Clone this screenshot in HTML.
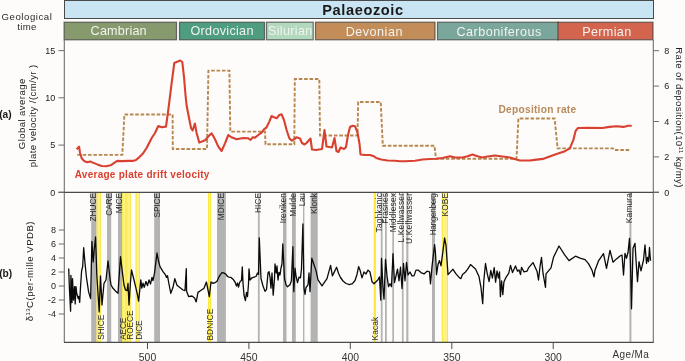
<!DOCTYPE html>
<html><head><meta charset="utf-8"><style>
html,body{margin:0;padding:0;background:#fdfcfb;}
svg{display:block;will-change:transform;}
text{font-family:"Liberation Sans",sans-serif;}
</style></head><body>
<svg width="685" height="361" viewBox="0 0 685 361">
<rect x="0" y="0" width="685" height="361" fill="#fdfcfb"/>
<rect x="64.5" y="0.5" width="589" height="18" fill="#c9e5f4" stroke="#4a4a4a" stroke-width="1"/>
<text x="363" y="14.6" font-family="Liberation Sans" font-weight="bold" font-size="14.6" fill="#1a1a1a" text-anchor="middle" letter-spacing="0.6">Palaeozoic</text>
<rect x="64.1" y="22.2" width="112.4" height="17.6" fill="#879a6d" stroke="#404040" stroke-opacity="0.75" stroke-width="1.2"/>
<text x="118.7" y="34.9" font-family="Liberation Sans" font-size="12.6" fill="#f2f3ee" text-anchor="middle" letter-spacing="0.2">Cambrian</text>
<rect x="179.5" y="22.2" width="85" height="17.6" fill="#4e9d80" stroke="#404040" stroke-opacity="0.75" stroke-width="1.2"/>
<text x="222.1" y="35.2" font-family="Liberation Sans" font-size="12.6" fill="#f2f3ee" text-anchor="middle" letter-spacing="0.3">Ordovician</text>
<rect x="266.5" y="22.2" width="46.69999999999999" height="17.6" fill="#b2d9bd" stroke="#404040" stroke-opacity="0.75" stroke-width="1.2"/>
<text x="290.3" y="34.6" font-family="Liberation Sans" font-size="12.6" fill="#f2f3ee" text-anchor="middle" letter-spacing="0.35">Silurian</text>
<rect x="315.5" y="22.2" width="119.5" height="17.6" fill="#c38d5a" stroke="#404040" stroke-opacity="0.75" stroke-width="1.2"/>
<text x="374.3" y="35.5" font-family="Liberation Sans" font-size="12.6" fill="#f2f3ee" text-anchor="middle" letter-spacing="0.5">Devonian</text>
<rect x="437.5" y="22.2" width="121" height="17.6" fill="#7aa69c" stroke="#404040" stroke-opacity="0.75" stroke-width="1.2"/>
<text x="499.1" y="35.6" font-family="Liberation Sans" font-size="12.6" fill="#f2f3ee" text-anchor="middle" letter-spacing="0.47">Carboniferous</text>
<rect x="558.0" y="22.2" width="95.0" height="17.6" fill="#d3654e" stroke="#404040" stroke-opacity="0.75" stroke-width="1.2"/>
<text x="606.9" y="35.6" font-family="Liberation Sans" font-size="12.6" fill="#f2f3ee" text-anchor="middle" letter-spacing="0.35">Permian</text>
<text x="27" y="19.6" font-family="Liberation Sans" font-size="9.6" fill="#2a2a2a" text-anchor="middle" letter-spacing="0.55">Geological</text>
<text x="27" y="29.9" font-family="Liberation Sans" font-size="9.6" fill="#2a2a2a" text-anchor="middle" letter-spacing="0.35">time</text>
<rect x="91.2" y="192.5" width="5.5" height="149.5" fill="#b3b3b3"/>
<rect x="96.7" y="192.5" width="4.1" height="149.5" fill="#fdf28a"/>
<rect x="97.2" y="192.5" width="3.1" height="149.5" fill="none" stroke="#fbe83a" stroke-width="1"/>
<rect x="107" y="192.5" width="4.2" height="149.5" fill="#b3b3b3"/>
<rect x="118" y="192.5" width="4.2" height="149.5" fill="#b3b3b3"/>
<rect x="122.2" y="192.5" width="4.2" height="149.5" fill="#fdf28a"/>
<rect x="122.7" y="192.5" width="3.2" height="149.5" fill="none" stroke="#fbe83a" stroke-width="1"/>
<rect x="126.4" y="192.5" width="4.4" height="149.5" fill="#fdf28a"/>
<rect x="126.9" y="192.5" width="3.4" height="149.5" fill="none" stroke="#fbe83a" stroke-width="1"/>
<rect x="135.6" y="192.5" width="4.4" height="149.5" fill="#fdf28a"/>
<rect x="136.1" y="192.5" width="3.4" height="149.5" fill="none" stroke="#fbe83a" stroke-width="1"/>
<rect x="154.2" y="192.5" width="5.8" height="149.5" fill="#b3b3b3"/>
<rect x="208.1" y="192.5" width="3.0" height="149.5" fill="#fdf28a"/>
<rect x="208.6" y="192.5" width="2.0" height="149.5" fill="none" stroke="#fbe83a" stroke-width="1"/>
<rect x="217" y="192.5" width="8.9" height="149.5" fill="#b3b3b3"/>
<rect x="257.9" y="192.5" width="1.8" height="149.5" fill="#b3b3b3"/>
<rect x="283" y="192.5" width="3.5" height="149.5" fill="#b3b3b3"/>
<rect x="292" y="192.5" width="3.8" height="149.5" fill="#b3b3b3"/>
<rect x="303" y="192.5" width="1.4" height="149.5" fill="#b3b3b3"/>
<rect x="310.6" y="192.5" width="7.1" height="149.5" fill="#b3b3b3"/>
<rect x="373.8" y="192.5" width="2.0" height="149.5" fill="#fdf28a"/>
<rect x="374.3" y="192.5" width="1.0" height="149.5" fill="none" stroke="#fbe83a" stroke-width="1"/>
<rect x="380.8" y="192.5" width="1.8" height="149.5" fill="#b3b3b3"/>
<rect x="385" y="192.5" width="1.8" height="149.5" fill="#b3b3b3"/>
<rect x="392.3" y="192.5" width="1.7" height="149.5" fill="#b3b3b3"/>
<rect x="401.9" y="192.5" width="1.7" height="149.5" fill="#b3b3b3"/>
<rect x="406.3" y="192.5" width="2.1" height="149.5" fill="#b3b3b3"/>
<rect x="432" y="192.5" width="3.0" height="149.5" fill="#b3b3b3"/>
<rect x="441.8" y="192.5" width="6.2" height="149.5" fill="#fdf28a"/>
<rect x="442.3" y="192.5" width="5.2" height="149.5" fill="none" stroke="#fbe83a" stroke-width="1"/>
<rect x="629.4" y="192.5" width="2.0" height="149.5" fill="#b3b3b3"/>
<line x1="64.3" y1="40" x2="64.3" y2="342.3" stroke="#6e6e6e" stroke-width="1.1"/>
<line x1="653.3" y1="40" x2="653.3" y2="342.3" stroke="#6e6e6e" stroke-width="1.1"/>
<line x1="58.5" y1="192.3" x2="659" y2="192.3" stroke="#4a4a4a" stroke-width="1.2"/>
<line x1="64" y1="342.3" x2="653.8" y2="342.3" stroke="#4a4a4a" stroke-width="1.2"/>
<line x1="58.5" y1="192.3" x2="64.3" y2="192.3" stroke="#6e6e6e" stroke-width="1"/>
<text x="55.2" y="195.5" font-family="Liberation Sans" font-size="9" fill="#222" text-anchor="end">0</text>
<line x1="58.5" y1="145.1" x2="64.3" y2="145.1" stroke="#6e6e6e" stroke-width="1"/>
<text x="55.2" y="148.2" font-family="Liberation Sans" font-size="9" fill="#222" text-anchor="end">5</text>
<line x1="58.5" y1="97.8" x2="64.3" y2="97.8" stroke="#6e6e6e" stroke-width="1"/>
<text x="55.2" y="101.0" font-family="Liberation Sans" font-size="9" fill="#222" text-anchor="end">10</text>
<line x1="58.5" y1="50.6" x2="64.3" y2="50.6" stroke="#6e6e6e" stroke-width="1"/>
<text x="55.2" y="53.8" font-family="Liberation Sans" font-size="9" fill="#222" text-anchor="end">15</text>
<line x1="653.3" y1="192.3" x2="659" y2="192.3" stroke="#6e6e6e" stroke-width="1"/>
<text x="664.3" y="195.5" font-family="Liberation Sans" font-size="9" fill="#222">0</text>
<line x1="653.3" y1="156.9" x2="659" y2="156.9" stroke="#6e6e6e" stroke-width="1"/>
<text x="664.3" y="160.1" font-family="Liberation Sans" font-size="9" fill="#222">2</text>
<line x1="653.3" y1="121.5" x2="659" y2="121.5" stroke="#6e6e6e" stroke-width="1"/>
<text x="664.3" y="124.7" font-family="Liberation Sans" font-size="9" fill="#222">4</text>
<line x1="653.3" y1="86.1" x2="659" y2="86.1" stroke="#6e6e6e" stroke-width="1"/>
<text x="664.3" y="89.3" font-family="Liberation Sans" font-size="9" fill="#222">6</text>
<line x1="653.3" y1="50.7" x2="659" y2="50.7" stroke="#6e6e6e" stroke-width="1"/>
<text x="664.3" y="53.9" font-family="Liberation Sans" font-size="9" fill="#222">8</text>
<line x1="58.8" y1="230.0" x2="64.3" y2="230.0" stroke="#6e6e6e" stroke-width="1"/>
<text x="56" y="233.2" font-family="Liberation Sans" font-size="9" fill="#222" text-anchor="end">8</text>
<line x1="58.8" y1="244.0" x2="64.3" y2="244.0" stroke="#6e6e6e" stroke-width="1"/>
<text x="56" y="247.2" font-family="Liberation Sans" font-size="9" fill="#222" text-anchor="end">6</text>
<line x1="58.8" y1="258.0" x2="64.3" y2="258.0" stroke="#6e6e6e" stroke-width="1"/>
<text x="56" y="261.2" font-family="Liberation Sans" font-size="9" fill="#222" text-anchor="end">4</text>
<line x1="58.8" y1="272.0" x2="64.3" y2="272.0" stroke="#6e6e6e" stroke-width="1"/>
<text x="56" y="275.2" font-family="Liberation Sans" font-size="9" fill="#222" text-anchor="end">2</text>
<line x1="58.8" y1="286.0" x2="64.3" y2="286.0" stroke="#6e6e6e" stroke-width="1"/>
<text x="56" y="289.2" font-family="Liberation Sans" font-size="9" fill="#222" text-anchor="end">0</text>
<line x1="58.8" y1="300.0" x2="64.3" y2="300.0" stroke="#6e6e6e" stroke-width="1"/>
<text x="56" y="303.2" font-family="Liberation Sans" font-size="9" fill="#222" text-anchor="end">-2</text>
<line x1="58.8" y1="314.0" x2="64.3" y2="314.0" stroke="#6e6e6e" stroke-width="1"/>
<text x="56" y="317.2" font-family="Liberation Sans" font-size="9" fill="#222" text-anchor="end">-4</text>
<line x1="147.5" y1="342.3" x2="147.5" y2="349" stroke="#4a4a4a" stroke-width="1"/>
<text x="147.5" y="361" font-family="Liberation Sans" font-size="10.4" fill="#333" text-anchor="middle">500</text>
<line x1="248.9" y1="342.3" x2="248.9" y2="349" stroke="#4a4a4a" stroke-width="1"/>
<text x="248.9" y="361" font-family="Liberation Sans" font-size="10.4" fill="#333" text-anchor="middle">450</text>
<line x1="350.3" y1="342.3" x2="350.3" y2="349" stroke="#4a4a4a" stroke-width="1"/>
<text x="350.3" y="361" font-family="Liberation Sans" font-size="10.4" fill="#333" text-anchor="middle">400</text>
<line x1="451.8" y1="342.3" x2="451.8" y2="349" stroke="#4a4a4a" stroke-width="1"/>
<text x="451.8" y="361" font-family="Liberation Sans" font-size="10.4" fill="#333" text-anchor="middle">350</text>
<line x1="553.2" y1="342.3" x2="553.2" y2="349" stroke="#4a4a4a" stroke-width="1"/>
<text x="553.2" y="361" font-family="Liberation Sans" font-size="10.4" fill="#333" text-anchor="middle">300</text>
<text x="630.9" y="358.3" font-family="Liberation Sans" font-size="10" fill="#333" text-anchor="middle" letter-spacing="0.4">Age/Ma</text>
<text transform="translate(25.2,114) rotate(-90)" font-family="Liberation Sans" font-size="9.6" fill="#222" text-anchor="middle" textLength="70.5" lengthAdjust="spacing">Global average</text>
<text transform="translate(36.2,116) rotate(-90)" font-family="Liberation Sans" font-size="9.6" fill="#222" text-anchor="middle" textLength="102.5" lengthAdjust="spacing">plate velocity /(cm/yr )</text>
<text x="-0.8" y="117.6" font-family="Liberation Sans" font-weight="bold" font-size="10.2" fill="#1a1a1a">(a)</text>
<text x="-0.8" y="277.3" font-family="Liberation Sans" font-weight="bold" font-size="10.2" fill="#1a1a1a">(b)</text>
<text transform="translate(33.0,271.2) rotate(-90)" font-family="Liberation Sans" font-size="9.6" fill="#222" text-anchor="middle" letter-spacing="0.47">δ<tspan font-size="6" dy="-3.5">13</tspan><tspan dy="3.5">C(per-mille VPDB)</tspan></text>
<text transform="translate(675.8,117.5) rotate(90)" font-family="Liberation Sans" font-size="9.6" fill="#222" text-anchor="middle" letter-spacing="0.39">Rate of deposition(10<tspan font-size="6" dy="-3.5">11</tspan><tspan dy="3.5"> kg/my)</tspan></text>
<text transform="translate(96.0,193.0) rotate(-90)" font-family="Liberation Sans" font-size="8.4" fill="#2a2a2a" text-anchor="end" textLength="28.5" lengthAdjust="spacing">ZHUCE</text>
<text transform="translate(111.7,193.0) rotate(-90)" font-family="Liberation Sans" font-size="8.4" fill="#2a2a2a" text-anchor="end" textLength="22.7" lengthAdjust="spacing">CARE</text>
<text transform="translate(122.2,193.0) rotate(-90)" font-family="Liberation Sans" font-size="8.4" fill="#2a2a2a" text-anchor="end" textLength="20.3" lengthAdjust="spacing">MICE</text>
<text transform="translate(159.6,193.0) rotate(-90)" font-family="Liberation Sans" font-size="8.4" fill="#2a2a2a" text-anchor="end" textLength="24.4" lengthAdjust="spacing">SPICE</text>
<text transform="translate(224.4,193.0) rotate(-90)" font-family="Liberation Sans" font-size="8.4" fill="#2a2a2a" text-anchor="end" textLength="27.3" lengthAdjust="spacing">MDICE</text>
<text transform="translate(261.0,193.0) rotate(-90)" font-family="Liberation Sans" font-size="8.4" fill="#2a2a2a" text-anchor="end" textLength="20.1" lengthAdjust="spacing">HICE</text>
<text transform="translate(286.4,193.0) rotate(-90)" font-family="Liberation Sans" font-size="8.4" fill="#2a2a2a" text-anchor="end" textLength="30.3" lengthAdjust="spacing">Ireviken</text>
<text transform="translate(296.4,193.0) rotate(-90)" font-family="Liberation Sans" font-size="8.4" fill="#2a2a2a" text-anchor="end" textLength="23.8" lengthAdjust="spacing">Mulde</text>
<text transform="translate(305.1,193.0) rotate(-90)" font-family="Liberation Sans" font-size="8.4" fill="#2a2a2a" text-anchor="end" textLength="13.3" lengthAdjust="spacing">Lau</text>
<text transform="translate(316.8,193.0) rotate(-90)" font-family="Liberation Sans" font-size="8.4" fill="#2a2a2a" text-anchor="end" textLength="20.9" lengthAdjust="spacing">Klonk</text>
<text transform="translate(381.5,193.0) rotate(-90)" font-family="Liberation Sans" font-size="8.4" fill="#2a2a2a" text-anchor="end" textLength="39.5" lengthAdjust="spacing">Taghkanic</text>
<text transform="translate(388.3,193.0) rotate(-90)" font-family="Liberation Sans" font-size="8.4" fill="#2a2a2a" text-anchor="end" textLength="30.7" lengthAdjust="spacing">Frasnes</text>
<text transform="translate(395.6,193.0) rotate(-90)" font-family="Liberation Sans" font-size="8.4" fill="#2a2a2a" text-anchor="end" textLength="39.2" lengthAdjust="spacing">Middlesex</text>
<text transform="translate(404.3,193.0) rotate(-90)" font-family="Liberation Sans" font-size="8.4" fill="#2a2a2a" text-anchor="end" textLength="49.6" lengthAdjust="spacing">L.Kellwasser</text>
<text transform="translate(411.8,193.0) rotate(-90)" font-family="Liberation Sans" font-size="8.4" fill="#2a2a2a" text-anchor="end" textLength="51.0" lengthAdjust="spacing">U.Kellwasser</text>
<text transform="translate(435.9,193.0) rotate(-90)" font-family="Liberation Sans" font-size="8.4" fill="#2a2a2a" text-anchor="end" textLength="42.3" lengthAdjust="spacing">Hangenberg</text>
<text transform="translate(447.5,193.0) rotate(-90)" font-family="Liberation Sans" font-size="8.4" fill="#2a2a2a" text-anchor="end" textLength="23.4" lengthAdjust="spacing">KOBE</text>
<text transform="translate(631.9,193.0) rotate(-90)" font-family="Liberation Sans" font-size="8.4" fill="#2a2a2a" text-anchor="end" textLength="30.2" lengthAdjust="spacing">Kamura</text>
<text transform="translate(103.6,339.8) rotate(-90)" font-family="Liberation Sans" font-size="8.4" fill="#2a2a2a" textLength="25.1" lengthAdjust="spacing">SHICE</text>
<text transform="translate(126.1,339.8) rotate(-90)" font-family="Liberation Sans" font-size="8.4" fill="#2a2a2a" textLength="22.1" lengthAdjust="spacing">AECE</text>
<text transform="translate(132.9,339.8) rotate(-90)" font-family="Liberation Sans" font-size="8.4" fill="#2a2a2a" textLength="29.5" lengthAdjust="spacing">ROECE</text>
<text transform="translate(141.6,339.8) rotate(-90)" font-family="Liberation Sans" font-size="8.4" fill="#2a2a2a" textLength="19.5" lengthAdjust="spacing">DICE</text>
<text transform="translate(212.7,340.5) rotate(-90)" font-family="Liberation Sans" font-size="8.4" fill="#2a2a2a" textLength="31.8" lengthAdjust="spacing">BDNICE</text>
<text transform="translate(377.7,340.6) rotate(-90)" font-family="Liberation Sans" font-size="8.4" fill="#2a2a2a" textLength="23.9" lengthAdjust="spacing">Kacak</text>
<polyline points="68.7,268.6 69.5,290.0 70.6,311.2 70.9,275.3 72.0,302.6 72.5,278.6 73.5,300.0 74.6,286.6 75.2,303.9 76.0,286.6 76.7,293.3 78.2,298.6 78.9,296.3 79.7,302.3 80.4,288.9 81.6,271.0 82.7,266.5 83.7,247.7 84.9,262.0 86.4,277.0 88.6,291.9 90.6,298.6 91.9,241.3 93.2,262.0 94.2,250.0 95.6,237.0 96.8,275.0 99.2,311.9 100.5,275.8 102.0,305.0 104.0,283.3 106.0,280.0 108.0,260.8 110.0,278.3 111.0,285.0 113.0,288.3 116.0,291.6 118.0,293.3 120.5,256.7 122.5,273.3 124.0,285.0 125.5,290.0 127.0,290.8 128.0,283.3 129.0,305.0 130.5,281.7 131.5,270.0 134.0,280.0 136.0,288.3 137.5,295.0 138.6,301.2 140.8,279.9 141.8,288.2 143.0,283.2 144.2,287.3 146.0,281.5 147.5,285.7 149.0,279.9 150.5,284.0 152.0,277.4 153.0,280.7 154.5,273.2 157.0,253.0 158.5,261.0 160.0,266.6 163.0,271.6 165.5,274.9 166.5,277.4 167.5,275.7 168.5,281.5 170.8,293.3 173.0,287.3 174.8,278.7 177.0,285.3 183.0,290.0 185.0,290.6 186.3,268.6 186.6,291.3 188.6,296.6 192.0,296.0 194.6,298.0 196.2,301.9 198.0,292.4 200.0,291.0 204.0,288.2 206.4,282.0 207.5,287.5 209.3,296.6 211.0,282.0 213.0,283.4 215.0,282.7 217.0,281.3 218.5,277.9 220.0,275.1 222.0,272.7 224.0,273.0 226.0,274.4 227.5,276.5 229.0,277.2 231.0,277.4 233.0,279.2 235.0,282.0 236.5,286.0 237.5,283.0 238.5,287.0 239.5,283.0 240.5,281.0 241.5,280.6 242.3,267.0 243.0,283.0 244.0,295.0 245.4,300.7 246.5,292.4 247.5,296.5 248.5,284.0 249.0,268.8 250.0,280.0 252.0,277.8 254.0,277.1 256.0,276.5 257.5,273.0 258.5,274.4 259.3,238.0 261.0,278.5 263.0,286.0 265.0,291.3 266.5,289.6 268.0,273.0 269.0,271.6 270.0,277.1 271.0,288.2 272.0,273.0 273.2,295.1 274.5,278.5 275.0,264.0 276.2,273.0 277.0,266.0 278.0,280.0 279.0,272.3 280.0,275.0 281.0,268.0 282.0,264.0 282.8,243.9 284.5,278.5 286.0,284.8 287.5,286.8 290.0,284.8 291.4,280.6 292.9,246.6 293.8,291.7 295.0,268.1 296.0,275.8 297.5,282.7 299.0,277.1 300.5,277.8 301.5,268.8 302.9,224.0 304.0,288.2 305.0,294.4 306.0,287.5 308.0,284.8 309.0,273.0 310.0,291.7 311.8,258.2 316.0,270.6 318.0,279.9 322.0,285.9 327.0,278.6 330.6,265.3 332.4,275.9 334.0,272.6 336.6,267.3 338.5,273.2 340.5,277.5 343.0,281.0 346.0,283.5 349.4,284.6 352.5,283.6 355.0,280.5 357.0,274.5 358.6,266.6 360.0,270.1 362.0,277.9 364.0,272.0 366.0,274.0 368.0,270.1 370.0,272.0 372.0,281.7 374.0,283.7 376.0,281.7 378.0,279.8 379.5,276.9 380.8,300.2 381.5,258.4 383.0,288.5 384.0,299.2 385.5,259.4 387.0,275.9 388.5,286.6 390.0,283.7 391.5,286.6 393.0,253.6 394.5,282.7 396.0,275.9 397.5,269.1 399.0,280.8 400.5,267.2 402.0,288.5 403.5,263.3 405.0,280.8 406.5,262.3 408.0,275.0 410.0,272.0 412.0,275.9 414.0,275.9 416.0,270.1 418.0,270.1 421.0,272.6 424.0,273.9 427.0,271.2 429.5,271.9 430.5,283.9 432.0,266.6 434.6,244.6 435.5,253.3 436.5,274.6 438.0,264.6 439.5,260.6 441.0,265.9 443.0,250.6 444.6,238.0 446.0,245.3 448.0,274.6 450.5,271.9 453.0,269.3 456.0,273.9 459.5,277.9 461.0,278.6 462.5,274.6 465.0,272.6 467.5,269.3 470.5,264.6 475.5,269.0 479.0,276.6 481.0,287.7 482.7,303.6 483.8,280.8 485.5,263.5 487.3,273.8 489.1,281.5 490.8,270.4 492.4,278.0 494.2,267.6 495.6,282.1 497.0,271.0 498.4,278.0 499.5,271.8 500.4,296.7 501.6,280.8 502.8,294.6 503.9,282.1 506.0,277.3 508.8,273.1 510.5,265.3 512.5,272.6 515.5,265.9 517.5,271.2 519.0,269.9 520.5,274.6 521.5,267.3 524.0,271.9 527.0,271.2 528.5,267.9 533.0,262.6 537.0,271.2 538.5,280.0 540.0,266.6 541.5,257.3 543.0,273.2 545.5,287.3 546.0,273.9 551.0,267.9 553.5,257.3 559.0,246.0 564.5,254.6 569.0,260.6 575.5,256.2 580.0,258.2 585.0,259.6 588.5,263.6 592.0,270.2 594.0,276.9 595.0,270.2 598.5,260.9 603.5,253.6 606.5,268.3 610.0,250.3 613.0,262.2 616.5,258.9 620.0,256.0 622.0,255.0 623.5,275.0 625.0,253.3 626.5,258.3 628.0,252.5 629.5,238.3 630.5,263.3 631.5,308.8 633.0,248.3 635.0,243.3 636.0,260.0 637.5,281.7 639.0,261.7 641.0,270.8 643.5,260.0 645.0,245.0 646.5,263.3 647.5,257.5 648.5,261.7 649.5,247.5 650.5,260.8" fill="none" stroke="#0a0a0a" stroke-width="1.3" stroke-linejoin="round"/>
<polyline points="77.3,154.9 122.3,154.9 124.4,114.5 172.6,114.5 172.8,149.0 207.0,149.0 208.4,70.6 229.4,70.6 230.3,131.6 265.0,131.6 265.5,144.3 294.3,144.3 294.8,79.0 319.3,79.0 320.0,135.5 357.5,135.5 358.2,102.0 380.7,102.0 382.8,145.7 434.5,145.7 436.0,158.7 516.5,158.7 518.4,118.5 554.6,118.5 557.6,148.4 613.0,148.4 614.0,150.0 629.3,150.0" fill="none" stroke="#b7874f" stroke-width="1.9" stroke-dasharray="3.6,1.75"/>
<polyline points="76.6,149.3 79.1,146.7 80.0,152.7 81.7,158.2 84.0,160.9 87.3,162.2 90.2,161.5 92.8,162.6 97.3,164.4 101.7,166.0 106.1,166.2 110.6,165.3 113.9,163.1 117.2,160.9 121.6,161.1 128.3,160.9 132.7,160.9 136.0,160.0 139.4,157.1 142.7,153.8 146.6,148.0 151.7,138.0 155.0,133.0 158.3,126.0 161.7,127.3 166.0,126.6 168.3,110.0 171.6,83.3 174.3,63.0 180.2,60.5 182.3,62.0 184.0,77.0 185.5,95.0 186.7,106.0 188.9,117.2 191.1,128.2 192.6,130.5 194.9,123.6 196.6,133.0 199.3,142.6 205.0,140.2 208.3,136.6 211.6,133.3 215.0,139.3 218.3,146.6 221.6,151.0 225.0,143.3 228.3,135.0 231.6,137.3 236.6,139.3 243.3,138.0 248.3,138.3 250.6,140.0 252.6,137.3 255.0,137.6 258.3,135.0 261.6,132.6 264.0,129.3 266.6,127.3 269.3,121.6 271.6,116.0 274.0,117.3 276.6,118.3 279.3,115.0 281.6,114.3 284.0,120.0 286.6,130.0 289.3,138.3 291.6,140.6 294.0,139.3 296.6,137.3 300.0,138.5 302.0,143.0 304.5,144.5 306.0,143.5 310.5,138.5 312.0,149.5 316.0,150.0 322.0,149.0 324.5,130.0 326.5,146.5 332.0,147.5 334.5,138.0 336.5,151.0 338.5,152.0 340.5,147.5 344.0,149.0 346.0,147.0 348.0,135.0 350.0,127.0 352.5,125.7 355.0,126.2 357.5,132.5 359.5,143.7 360.5,154.5 365.0,155.0 370.0,155.0 373.7,156.2 376.2,158.0 381.2,159.5 387.5,160.5 395.0,160.7 400.0,161.2 405.0,161.2 415.0,160.7 422.5,159.5 430.0,159.0 436.2,158.7 442.5,158.0 450.0,156.2 455.0,157.5 462.5,157.5 467.5,156.2 472.5,154.5 477.5,156.2 482.5,157.5 487.5,156.5 495.0,155.5 502.5,156.5 510.0,157.5 516.2,159.5 520.0,160.5 530.0,160.5 534.7,159.9 542.9,158.9 551.0,155.9 558.0,153.5 565.0,151.2 569.8,148.4 573.3,140.2 575.6,130.9 578.0,128.0 588.5,127.9 602.5,128.0 609.5,126.9 616.5,126.2 623.5,126.9 628.2,125.7 631.7,125.7" fill="none" stroke="#d9402f" stroke-width="2.1" stroke-linejoin="round"/>
<text x="74.7" y="178.2" font-family="Liberation Sans" font-weight="bold" font-size="10" fill="#d9402f" letter-spacing="0.27">Average plate drift velocity</text>
<text x="498.5" y="113.4" font-family="Liberation Sans" font-weight="bold" font-size="10.2" fill="#b98a5a" letter-spacing="0.25">Deposition rate</text>
</svg>
</body></html>
